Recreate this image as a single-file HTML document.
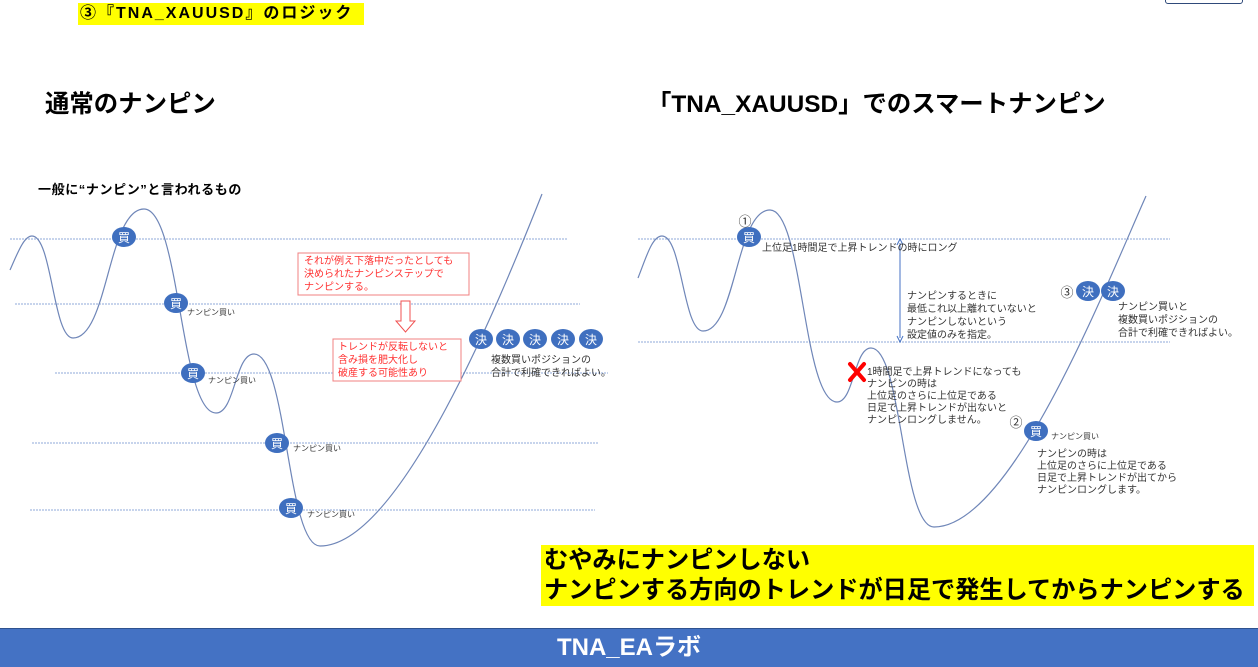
<!DOCTYPE html>
<html><head><meta charset="utf-8"><style>
html,body{margin:0;padding:0;background:#fff}
body{width:1258px;height:666px;position:relative;overflow:hidden;font-family:"Liberation Sans","Noto Sans CJK JP",sans-serif}
.a{position:absolute;white-space:nowrap}
</style></head><body>
<div class="a" style="left:78px;top:3px;height:22px;width:286px;background:#ffff00"></div>
<div class="a" style="left:80px;top:3px;font-size:16px;font-weight:bold;line-height:22px;letter-spacing:2px">③『TNA_XAUUSD』のロジック</div>
<div class="a" style="left:1165px;top:-6px;width:76px;height:8px;border:1px solid #2f4a7a;border-radius:3px"></div>
<div class="a" style="left:45px;top:90px;font-size:24.4px;font-weight:bold;line-height:30px">通常のナンピン</div>
<div class="a" style="left:647px;top:90px;font-size:24.4px;font-weight:bold;line-height:30px">「TNA_XAUUSD」でのスマートナンピン</div>
<div class="a" style="left:38px;top:179px;font-size:13px;font-weight:bold;letter-spacing:0.6px">一般に“ナンピン”と言われるもの</div>

<svg class="a" style="left:0;top:0" width="1258" height="666" font-family="Liberation Sans, Noto Sans CJK JP, sans-serif">
<g stroke="#8fa8d8" stroke-width="1" stroke-dasharray="2,1">
<line x1="10" y1="239" x2="568" y2="239"/>
<line x1="15" y1="304" x2="580" y2="304"/>
<line x1="55" y1="373" x2="608" y2="373"/>
<line x1="32" y1="443" x2="598" y2="443"/>
<line x1="30" y1="510" x2="595" y2="510"/>
<line x1="638" y1="239" x2="1170" y2="239"/>
<line x1="638" y1="342" x2="1170" y2="342"/>
</g>
<g fill="none" stroke="#6f86b8" stroke-width="1.2">
<path d="M10 270 C18 252 24 236 32 236 C52 236 53 338 73 338 C108 338 108 209 144 209 C180 209 180 413 216 413 C235 413 235 354 254 354 C287 354 287 546 320 546 C400 546 500 300 542 194"/>
<path d="M638 278 C646 258 652 236 662 236 C682 236 683 331 703 331 C736 331 736 210 770 210 C803 210 803 402 837 402 C854 402 854 348 871 348 C902 348 902 527 934 527 C1010 527 1100 300 1146 196"/>
</g>
<rect x="298" y="253" width="171" height="42" fill="#fff" stroke="#f08080"/>
<rect x="333" y="339" width="128" height="42" fill="#fff" stroke="#f08080"/>
<path d="M401 301 h9 v20 h5 l-9.5 11 l-9.5 -11 h5 z" fill="#fff" stroke="#f05050"/>
<g font-size="10" fill="#ff3030">
<text x="304" y="264">それが例え下落中だったとしても</text>
<text x="304" y="277">決められたナンピンステップで</text>
<text x="304" y="290">ナンピンする。</text>
<text x="338" y="350">トレンドが反転しないと</text>
<text x="338" y="363">含み損を肥大化し</text>
<text x="338" y="376">破産する可能性あり</text>
</g>
<line x1="900" y1="243" x2="900" y2="338" stroke="#4472c4"/>
<path d="M897 245 L900 239 L903 245 M897 336 L900 342 L903 336" fill="none" stroke="#4472c4"/>
<g fill="#3f6fbf">
<ellipse cx="124" cy="237" rx="12" ry="10"/><ellipse cx="176" cy="303" rx="12" ry="10"/>
<ellipse cx="193" cy="373" rx="12" ry="10"/><ellipse cx="277" cy="443" rx="12" ry="10"/>
<ellipse cx="291" cy="508" rx="12" ry="10"/>
<ellipse cx="481" cy="339" rx="12" ry="10"/><ellipse cx="508" cy="339" rx="12" ry="10"/>
<ellipse cx="535" cy="339" rx="12" ry="10"/><ellipse cx="563" cy="339" rx="12" ry="10"/>
<ellipse cx="591" cy="339" rx="12" ry="10"/>
<ellipse cx="749" cy="237" rx="12" ry="10"/><ellipse cx="1088" cy="291" rx="12" ry="10"/>
<ellipse cx="1113" cy="291" rx="12" ry="10"/><ellipse cx="1036" cy="431" rx="12" ry="10"/>
</g>
<g font-size="12" fill="#fff" text-anchor="middle">
<text x="124" y="242">買</text><text x="176" y="308">買</text><text x="193" y="378">買</text>
<text x="277" y="448">買</text><text x="291" y="513">買</text>
<text x="481" y="344">決</text><text x="508" y="344">決</text><text x="535" y="344">決</text>
<text x="563" y="344">決</text><text x="591" y="344">決</text>
<text x="749" y="242">買</text><text x="1088" y="296">決</text><text x="1113" y="296">決</text>
<text x="1036" y="436">買</text>
</g>
<g font-size="8" fill="#333">
<text x="187" y="315">ナンピン買い</text><text x="208" y="383">ナンピン買い</text>
<text x="293" y="451">ナンピン買い</text><text x="307" y="517">ナンピン買い</text>
<text x="1051" y="439">ナンピン買い</text>
</g>
<g font-size="10" fill="#333">
<text x="491" y="363">複数買いポジションの</text>
<text x="491" y="376">合計で利確できればよい。</text>
<text x="762" y="251">上位足1時間足で上昇トレンドの時にロング</text>
<text x="907" y="299">ナンピンするときに</text>
<text x="907" y="312">最低これ以上離れていないと</text>
<text x="907" y="325">ナンピンしないという</text>
<text x="907" y="338">設定値のみを指定。</text>
<text x="1118" y="310">ナンピン買いと</text>
<text x="1118" y="323">複数買いポジションの</text>
<text x="1118" y="336">合計で利確できればよい。</text>
<text x="867" y="375">1時間足で上昇トレンドになっても</text>
<text x="867" y="387">ナンピンの時は</text>
<text x="867" y="399">上位足のさらに上位足である</text>
<text x="867" y="411">日足で上昇トレンドが出ないと</text>
<text x="867" y="423">ナンピンロングしません。</text>
<text x="1037" y="457">ナンピンの時は</text>
<text x="1037" y="469">上位足のさらに上位足である</text>
<text x="1037" y="481">日足で上昇トレンドが出てから</text>
<text x="1037" y="493">ナンピンロングします。</text>
</g>
<g font-size="13" fill="#333" text-anchor="middle">
<text x="745" y="226">①</text><text x="1067" y="297">③</text><text x="1016" y="427">②</text>
</g>
<path d="M850 364 L864 380 M864 364 L850 380" stroke="#ff0000" stroke-width="4" stroke-linecap="round"/>
</svg>

<div class="a" style="left:541px;top:545px;width:713px;height:61px;background:#ffff00"></div>
<div class="a" style="left:544px;top:546px;font-size:24.2px;font-weight:bold;line-height:30px">むやみにナンピンしない<br>ナンピンする方向のトレンドが日足で発生してからナンピンする</div>
<div class="a" style="left:0;top:628px;width:1258px;height:38px;background:#4472c4;border-top:1px solid #2f528f;color:#fff;font-size:24px;font-weight:bold;text-align:center;line-height:38px">TNA_EAラボ</div>
</body></html>
